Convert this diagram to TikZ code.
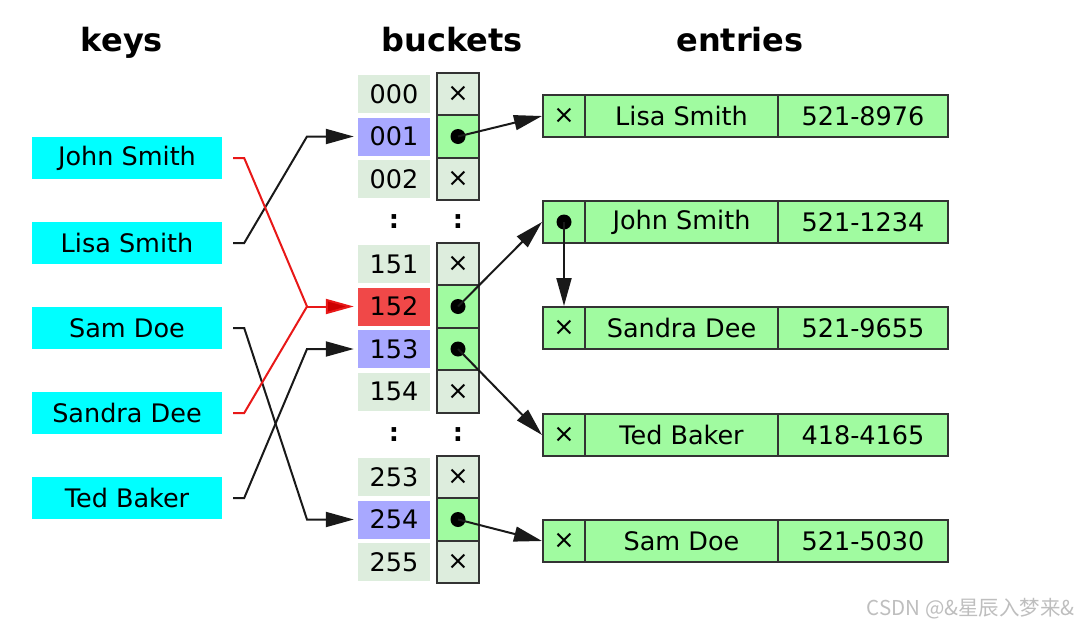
\documentclass[tikz,border=0pt]{standalone}
\usepackage{fontspec}
\setmainfont{DejaVu Sans}
\newfontfamily\cjk{Noto Sans CJK SC}
\usetikzlibrary{arrows.meta}
\definecolor{idxg}{HTML}{DDEDDD}
\definecolor{ptrg}{HTML}{A0FBA0}
\definecolor{blu}{HTML}{A8A8FF}
\definecolor{redc}{HTML}{F04848}
\definecolor{redl}{HTML}{E81818}
\definecolor{keyc}{HTML}{00FFFF}
\definecolor{wm}{HTML}{BEBEBE}
\begin{document}
\begin{tikzpicture}[x=1pt,y=-1pt,
  every node/.style={inner sep=0pt, font=\fontsize{25.5}{30}\selectfont},
  title/.style={font=\fontsize{32}{36}\selectfont\bfseries, anchor=base},
  keybox/.style={fill=keyc, minimum width=190pt, minimum height=42pt},
  idx/.style={fill=idxg, minimum width=72pt, minimum height=38pt},
  ptr/.style={draw=black!80, line width=2pt, fill=idxg, minimum width=42pt, minimum height=42.7pt},
  full/.style={fill=ptrg},
  cellx/.style={draw=black!80, line width=2pt, fill=ptrg, minimum height=42pt, minimum width=42pt},
  celln/.style={draw=black!80, line width=2pt, fill=ptrg, minimum height=42pt, minimum width=193pt},
  cellp/.style={draw=black!80, line width=2pt, fill=ptrg, minimum height=42pt, minimum width=170pt},
  dot/.style={circle, fill=black, minimum size=15pt},
  conn/.style={line width=2pt, black!90, -{Triangle[length=28pt,width=15pt]}},
  rconn/.style={line width=2pt, redl},
  colon/.style={font=\fontsize{25.5}{30}\selectfont\bfseries}
]
\path[use as bounding box] (0,0) rectangle (1077,627);
% titles
\node[title] (tk) at (122,51) {keys};
\node[title] (tb) at (452,51) {buckets};
\node[title] (te) at (740,51) {entries};
% keys
\node[keybox] (kj) at (127,158) {John Smith};
\node[keybox] (kl) at (127,243) {Lisa Smith};
\node[keybox] (ks) at (127,328) {Sam Doe};
\node[keybox] (kd) at (127,413) {Sandra Dee};
\node[keybox] (kt) at (127,498) {Ted Baker};
% index cells
\node[idx] (i000) at (394,94) {000};
\node[idx,fill=blu] (i001) at (394,136.5) {001};
\node[idx] (i002) at (394,179) {002};
\node[idx] (i151) at (394,264) {151};
\node[idx,fill=redc] (i152) at (394,306.5) {152};
\node[idx,fill=blu] (i153) at (394,349) {153};
\node[idx] (i154) at (394,391.5) {154};
\node[idx] (i253) at (394,477) {253};
\node[idx,fill=blu] (i254) at (394,519.5) {254};
\node[idx] (i255) at (394,562) {255};
\node[colon] (c1) at (394,222) {:};
\node[colon] (c2) at (458,222) {:};
\node[colon] (c3) at (394,435) {:};
\node[colon] (c4) at (458,435) {:};
% pointer cells
\node[ptr] (p000) at (458,94) {×};
\node[ptr,full] (p001) at (458,136.5) {};
\node[ptr] (p002) at (458,179) {×};
\node[ptr] (p151) at (458,264) {×};
\node[ptr,full] (p152) at (458,306.5) {};
\node[ptr,full] (p153) at (458,349) {};
\node[ptr] (p154) at (458,391.5) {×};
\node[ptr] (p253) at (458,477) {×};
\node[ptr,full] (p254) at (458,519.5) {};
\node[ptr] (p255) at (458,562) {×};
\node[dot] (d001) at (p001) {};
\node[dot] (d152) at (p152) {};
\node[dot] (d153) at (p153) {};
\node[dot] (d254) at (p254) {};
% entries
\node[cellx] (ex1) at (564,116) {×};
\node[celln] (en1) at (681.5,116) {Lisa Smith};
\node[cellp] (ep1) at (863,116) {521-8976};
\node[cellx] (ex2) at (564,222) {};
\node[celln] (en2) at (681.5,222) {John Smith};
\node[cellp] (ep2) at (863,222) {521-1234};
\node[dot] (d2) at (ex2) {};
\node[cellx] (ex3) at (564,328) {×};
\node[celln] (en3) at (681.5,328) {Sandra Dee};
\node[cellp] (ep3) at (863,328) {521-9655};
\node[cellx] (ex4) at (564,435) {×};
\node[celln] (en4) at (681.5,435) {Ted Baker};
\node[cellp] (ep4) at (863,435) {418-4165};
\node[cellx] (ex5) at (564,541) {×};
\node[celln] (en5) at (681.5,541) {Sam Doe};
\node[cellp] (ep5) at (863,541) {521-5030};
% key connectors
\draw[conn] ([xshift=11pt]kl.east) -- ++(11,0) -- (307,136.5) -- ([xshift=-4pt]i001.west);
\draw[conn] ([xshift=11pt]ks.east) -- ++(11,0) -- (307,519.5) -- ([xshift=-4pt]i254.west);
\draw[conn] ([xshift=11pt]kt.east) -- ++(11,0) -- (307,349) -- ([xshift=-4pt]i153.west);
\coordinate (rj) at (307,306.5);
\draw[rconn] ([xshift=11pt]kj.east) -- ++(11,0) -- (rj);
\draw[rconn] ([xshift=11pt]kd.east) -- ++(11,0) -- (rj);
\draw[rconn, -{Triangle[length=28pt,width=15pt,fill=red!80!black]}] (rj) -- ([xshift=-4pt]i152.west);
% pointer connectors
\draw[conn] (d001.center) -- (ex1.west);
\draw[conn] (d152.center) -- (ex2.west);
\draw[conn] (d153.center) -- (ex4.west);
\draw[conn] (d254.center) -- (ex5.west);
\draw[conn] (d2.center) -- (ex3.north);
% watermark
\node[font=\fontsize{20.5}{24}\selectfont\cjk, text=wm, anchor=east] (wmk) at (1075,609) {CSDN @\&星辰入梦来\&};
\end{tikzpicture}
\end{document}
